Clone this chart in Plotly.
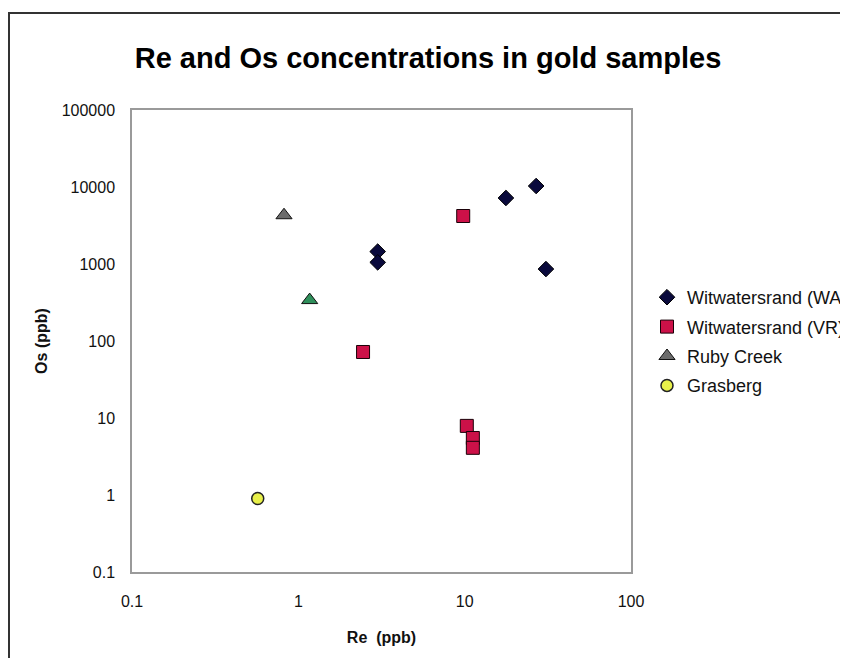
import plotly.graph_objects as go

# ---- data ----
wa_re = [3.0, 3.0, 17.7, 26.9, 30.8]
wa_os = [1450, 1050, 7200, 10300, 860]

vr_re = [9.8, 2.45, 10.3, 11.2, 11.2]
vr_os = [4200, 72, 7.9, 5.5, 4.1]

rc_re = [0.82, 1.17]
rc_os = [4300, 340]
rc_colors = ["#6b6b6b", "#2f8f5b"]

gr_re = [0.57]
gr_os = [0.9]

x_tickvals = [0.1, 1, 10, 100]
x_ticktext = ["0.1", "1", "10", "100"]
y_tickvals = [0.1, 1, 10, 100, 1000, 10000, 100000]
y_ticktext = ["0.1", "1", "10", "100", "1000", "10000", "100000"]

FONT = "Liberation Sans, Arial, sans-serif"

fig = go.Figure()
fig.add_trace(go.Scatter(
    x=wa_re, y=wa_os, mode="markers", name="Witwatersrand (WA)", legendgroup="a",
    marker=dict(symbol="diamond", size=12, color="#0a0a3c", line=dict(color="#000000", width=1)),
))
fig.add_trace(go.Scatter(
    x=vr_re, y=vr_os, mode="markers", name="Witwatersrand (VR)", legendgroup="b",
    marker=dict(symbol="square", size=13, color="#cc1148", line=dict(color="#1a0008", width=1)),
))
fig.add_trace(go.Scatter(
    x=rc_re, y=rc_os, mode="markers", name="Ruby Creek", legendgroup="c",
    marker=dict(symbol="triangle-up", size=14, color=rc_colors, line=dict(color="#111111", width=1)),
))
fig.add_trace(go.Scatter(
    x=gr_re, y=gr_os, mode="markers", name="Grasberg", legendgroup="d",
    marker=dict(symbol="circle", size=12, color="#e8f04a", line=dict(color="#222222", width=1.5)),
))

OFF = 8  # page body margin
W, H = 848, 658
L, T = 132 - OFF, 110 - OFF
pw, ph = 499, 462
R, B = W - L - pw, H - T - ph

def px(xs):  # screen x -> paper
    return (xs - OFF - L) / pw

def py(ys):  # screen y -> paper
    return (T + ph - (ys - OFF)) / ph

fig.update_layout(
    width=W, height=H,
    margin=dict(l=L, r=R, t=T, b=B, autoexpand=False),
    paper_bgcolor="white", plot_bgcolor="white",
    font=dict(family=FONT, size=16, color="#111111"),
    title=dict(text="<b>Re and Os concentrations in gold samples</b>",
               x=(428 - OFF) / W, xanchor="center", xref="container",
               y=1 - (58 - OFF) / H, yanchor="middle", yref="container",
               font=dict(family=FONT, size=29, color="#000000")),
    showlegend=True,
    legend=dict(x=px(647), xanchor="left", y=py(279), yanchor="top",
                font=dict(family=FONT, size=18, color="#111111"),
                traceorder="grouped", tracegroupgap=3,
                bgcolor="rgba(0,0,0,0)"),
    xaxis=dict(type="log", range=[-1, 2], tickvals=x_tickvals, ticktext=x_ticktext,
               showgrid=False, zeroline=False, showline=True, linecolor="#9a9a9a",
               linewidth=1.5, mirror=True, ticks="", ticklabelstandoff=14,
               tickfont=dict(family=FONT, size=16, color="#111111"),
               title=dict(text="<b>Re  (ppb)</b>", standoff=23,
                          font=dict(family=FONT, size=16, color="#111111"))),
    yaxis=dict(type="log", range=[-1, 5], tickvals=y_tickvals, ticktext=y_ticktext,
               showgrid=False, zeroline=False, showline=True, linecolor="#9a9a9a",
               linewidth=1.5, mirror=True, ticks="", ticklabelstandoff=12,
               tickfont=dict(family=FONT, size=16, color="#111111"),
               title=dict(text="<b>Os (ppb)</b>", standoff=10,
                          font=dict(family=FONT, size=16, color="#111111"))),
    shapes=[dict(type="rect", xref="paper", yref="paper",
                 x0=px(9), x1=px(900), y0=py(720), y1=py(13),
                 line=dict(color="#333333", width=2), fillcolor="rgba(0,0,0,0)",
                 layer="below")],
)

fig.write_html("out.html")
